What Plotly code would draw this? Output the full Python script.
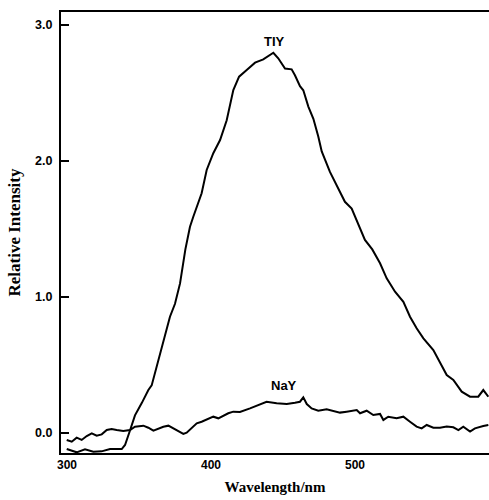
import plotly.graph_objects as go

tiy_wl = [299.8, 306.7, 312.5, 318.3, 324.0, 329.9, 338.0, 340.3, 343.8, 347.2, 351.9, 356.5, 358.8,
          362.3, 366.9, 371.5, 375.0, 378.5, 382.2, 385.4, 387.7, 391.9, 393.5, 397.0, 401.6, 406.3,
          410.9, 415.5, 419.5, 424.8, 430.6, 436.3, 443.3, 446.7, 451.4, 456.0, 458.3, 461.8, 464.1,
          467.6, 471.1, 474.5, 476.9, 482.6, 487.3, 493.0, 497.7, 502.3, 506.9, 512.0, 517.4, 522.0,
          527.8, 533.6, 538.2, 542.8, 547.5, 554.4, 559.0, 563.7, 568.3, 574.1, 579.9, 585.6, 589.1,
          592.6]
tiy_int = [-0.118, -0.142, -0.120, -0.137, -0.135, -0.118, -0.118, -0.088, 0.020, 0.130, 0.220, 0.316,
           0.350, 0.490, 0.660, 0.855, 0.950, 1.100, 1.350, 1.517, 1.590, 1.713, 1.763, 1.934, 2.057,
           2.154, 2.300, 2.522, 2.620, 2.669, 2.723, 2.747, 2.796, 2.755, 2.680, 2.674, 2.630, 2.550,
           2.520, 2.400, 2.310, 2.180, 2.070, 1.920, 1.820, 1.700, 1.650, 1.540, 1.420, 1.350, 1.248,
           1.137, 1.039, 0.965, 0.855, 0.770, 0.696, 0.610, 0.524, 0.426, 0.390, 0.304, 0.267, 0.267,
           0.316, 0.267]

nay_wl = [299.8, 303.3, 306.7, 310.2, 313.7, 317.2, 320.6, 324.1, 327.6, 331.0, 334.5, 339.1, 343.8,
          347.2, 353.0, 356.5, 360.0, 363.4, 366.9, 370.4, 373.8, 377.3, 380.8, 383.1, 386.6, 390.1,
          393.5, 397.0, 401.6, 405.1, 408.5, 412.0, 415.5, 420.1, 427.1, 434.0, 438.6, 445.6, 452.6,
          458.3, 461.8, 464.1, 466.5, 469.9, 474.5, 480.3, 485.0, 489.6, 494.2, 501.2, 503.5, 508.1,
          512.7, 517.4, 519.7, 523.1, 528.9, 533.6, 538.2, 542.8, 546.3, 549.8, 554.4, 559.0, 563.7,
          568.3, 571.8, 575.2, 579.9, 583.3, 589.1, 592.6]
nay_int = [-0.051, -0.064, -0.034, -0.051, -0.022, -0.002, -0.020, -0.010, 0.022, 0.029, 0.022, 0.015,
           0.022, 0.046, 0.054, 0.039, 0.017, 0.034, 0.046, 0.054, 0.034, 0.010, -0.007, 0.002, 0.034,
           0.071, 0.083, 0.100, 0.120, 0.108, 0.127, 0.145, 0.157, 0.155, 0.181, 0.213, 0.230, 0.218,
           0.213, 0.223, 0.230, 0.262, 0.213, 0.181, 0.164, 0.174, 0.164, 0.150, 0.157, 0.169, 0.145,
           0.164, 0.132, 0.140, 0.096, 0.120, 0.108, 0.120, 0.083, 0.047, 0.034, 0.059, 0.039, 0.039,
           0.047, 0.042, 0.022, 0.047, 0.010, 0.034, 0.051, 0.059]

x_ticks = [300, 400, 500]
y_ticks = [0.0, 1.0, 2.0, 3.0]
y_labels = ["0.0", "1.0", "2.0", "3.0"]

fig = go.Figure()
fig.add_trace(go.Scatter(x=tiy_wl, y=tiy_int, mode="lines", name="TIY",
                         line=dict(color="black", width=2)))
fig.add_trace(go.Scatter(x=nay_wl, y=nay_int, mode="lines", name="NaY",
                         line=dict(color="black", width=2)))

fig.add_annotation(x=444, y=2.88, text="<b>TIY</b>", showarrow=False,
                   font=dict(family="Liberation Sans", size=13, color="black"))
fig.add_annotation(x=451, y=0.35, text="<b>NaY</b>", showarrow=False,
                   font=dict(family="Liberation Sans", size=13, color="black"))

fig.update_layout(
    width=489, height=500,
    margin=dict(l=61, r=0, t=12, b=47),
    paper_bgcolor="white", plot_bgcolor="white",
    showlegend=False,
    xaxis=dict(range=[295.83, 593.06], tickvals=x_ticks, ticks="", showgrid=False,
               zeroline=False, showline=True, linecolor="black", linewidth=2, mirror=True,
               tickfont=dict(family="Liberation Sans", size=12, color="black", weight="bold"),
               title=dict(text="<b>Wavelength/nm</b>", standoff=10,
                          font=dict(family="Liberation Serif", size=15, color="black"))),
    yaxis=dict(range=[-0.147, 3.0956], tickvals=y_ticks, ticktext=y_labels, ticks="inside",
               ticklen=8, tickwidth=1.5, tickcolor="black", showgrid=False, zeroline=False,
               showline=True, linecolor="black", linewidth=2, mirror=False, ticklabelstandoff=4,
               tickfont=dict(family="Liberation Sans", size=12.5, color="black", weight="bold"),
               title=dict(text="<b>Relative Intensity</b>", standoff=10,
                          font=dict(family="Liberation Serif", size=17, color="black"))),
)

fig.write_html("out.html")
